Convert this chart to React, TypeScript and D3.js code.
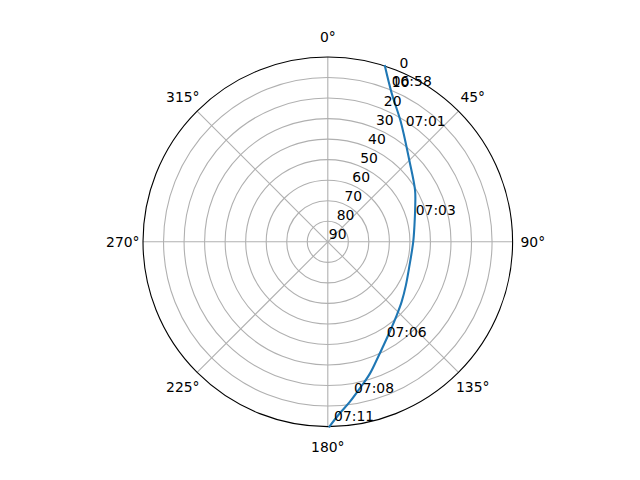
import React, { useEffect, useRef } from "react";
import * as d3 from "d3";

// satellite pass track, azimuth (deg, clockwise from north) and elevation (deg)
const trackAz = [
  18.0, 23.3, 31.3, 44.9, 59.3, 67.2, 79.0, 90.1, 108.1, 119.0, 129.0, 136.7,
  147.0, 156.3, 162.2, 167.6, 172.1, 176.5, 179.5,
];
const trackEl = [
  0.0, 11.3, 21.6, 33.8, 40.6, 43.8, 47.0, 48.4, 48.4, 46.5, 43.7, 41.0, 35.9,
  28.9, 22.7, 17.0, 11.4, 5.5, 0.0,
];

// time annotations along the track
const timeLabels = ["06:58", "07:01", "07:03", "07:06", "07:08", "07:11"];
const timeAz = [22.3, 33.9, 73.0, 148.2, 170.2, 178.0];
const timeEl = [8.0, 22.0, 45.2, 35.6, 15.1, 2.7];

const elTicks = [0, 10, 20, 30, 40, 50, 60, 70, 80, 90];
const azTicks = [0, 45, 90, 135, 180, 225, 270, 315];

const WIDTH = 640;
const HEIGHT = 480;
const CX = 327.8;
const CY = 241.8;
const R = 184.8;
const FONT = "'DejaVu Sans', sans-serif";
const FONT_SIZE = 13.9;

function drawChart(el: SVGSVGElement) {
  const svg = d3.select(el);
  svg.selectAll("*").remove();

  const r = d3.scaleLinear().domain([0, 90]).range([R, 0]);
  const rad = (deg: number) => (deg * Math.PI) / 180;
  const px = (az: number, e: number) => CX + r(e) * Math.sin(rad(az));
  const py = (az: number, e: number) => CY - r(e) * Math.cos(rad(az));

  const g = svg.append("g");

  // grid rings
  g.selectAll("circle.ring")
    .data(elTicks.filter((d) => d > 0 && d < 90))
    .join("circle")
    .attr("class", "ring")
    .attr("cx", CX)
    .attr("cy", CY)
    .attr("r", (d) => r(d))
    .attr("fill", "none")
    .attr("stroke", "#b0b0b0")
    .attr("stroke-width", 1.1);

  // spokes
  g.selectAll("line.spoke")
    .data(azTicks)
    .join("line")
    .attr("class", "spoke")
    .attr("x1", CX)
    .attr("y1", CY)
    .attr("x2", (d) => px(d, 0))
    .attr("y2", (d) => py(d, 0))
    .attr("stroke", "#b0b0b0")
    .attr("stroke-width", 1.1);

  // outer frame
  g.append("circle")
    .attr("cx", CX)
    .attr("cy", CY)
    .attr("r", r(0))
    .attr("fill", "none")
    .attr("stroke", "black")
    .attr("stroke-width", 1.1);

  // pass track
  const data = trackAz.map((a, i) => [rad(a), r(trackEl[i])] as [number, number]);
  const line = d3
    .lineRadial<[number, number]>()
    .angle((d) => d[0])
    .radius((d) => d[1])
    .curve(d3.curveCatmullRom);
  g.append("path")
    .attr("transform", `translate(${CX},${CY})`)
    .attr("d", line(data))
    .attr("fill", "none")
    .attr("stroke", "#1f77b4")
    .attr("stroke-width", 2.08)
    .attr("stroke-linecap", "square");

  // azimuth labels
  g.selectAll("text.az")
    .data(azTicks)
    .join("text")
    .attr("class", "az")
    .attr("x", (d) => CX + 205 * Math.sin(rad(d)))
    .attr("y", (d) => CY - 205 * Math.cos(rad(d)) + 5)
    .attr("text-anchor", "middle")
    .attr("font-family", FONT)
    .attr("font-size", FONT_SIZE)
    .text((d) => `${d}°`);

  // elevation labels
  g.selectAll("text.el")
    .data(elTicks)
    .join("text")
    .attr("class", "el")
    .attr("x", (d) => px(22.5, d) + 1)
    .attr("y", (d) => py(22.5, d) - 3)
    .attr("font-family", FONT)
    .attr("font-size", FONT_SIZE)
    .text((d) => d);

  // time annotations
  g.selectAll("text.time")
    .data(timeLabels)
    .join("text")
    .attr("class", "time")
    .attr("x", (d, i) => px(timeAz[i], timeEl[i]))
    .attr("y", (d, i) => py(timeAz[i], timeEl[i]))
    .attr("font-family", FONT)
    .attr("font-size", FONT_SIZE)
    .text((d) => d);
}

export default function App() {
  const ref = useRef<SVGSVGElement>(null);
  useEffect(() => {
    if (ref.current) drawChart(ref.current);
  }, []);
  return (
    <svg
      ref={ref}
      width={WIDTH}
      height={HEIGHT}
      style={{ position: "absolute", left: 0, top: 0, background: "white" }}
    />
  );
}
